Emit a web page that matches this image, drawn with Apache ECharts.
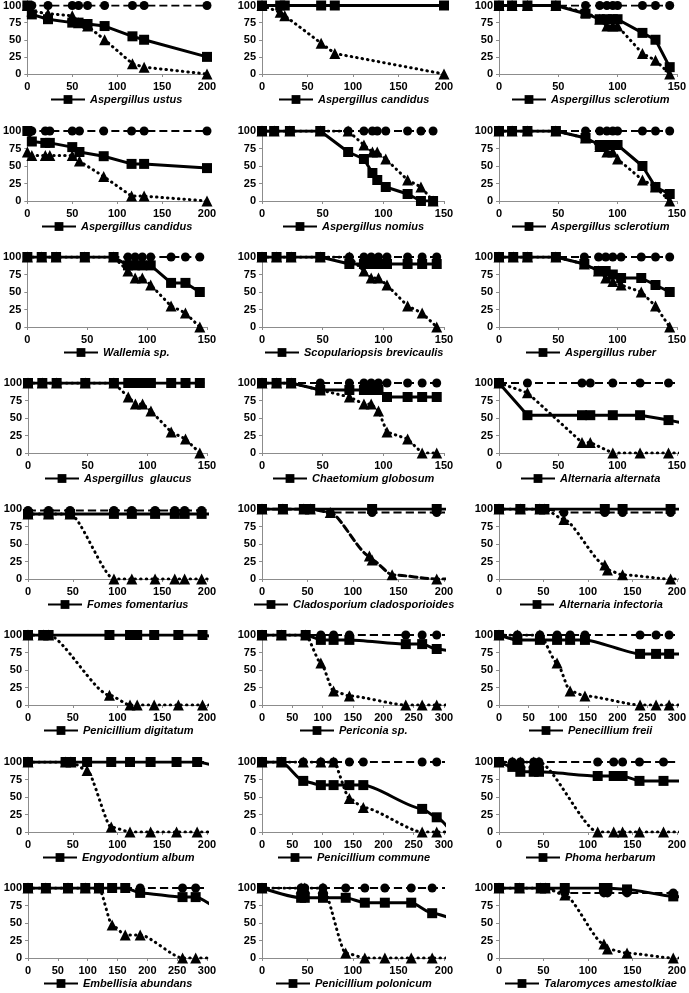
<!DOCTYPE html>
<html>
<head>
<meta charset="utf-8">
<script src="https://cdn.jsdelivr.net/npm/echarts@6/dist/echarts.min.js"></script>
<style>
html, body { margin: 0; padding: 0; background: #fff; }
#chart { width: 689px; height: 993px; }
</style>
</head>
<body>
<div id="chart"></div>
<script>
// panel titles, row by row
var titles = [
	'Aspergillus ustus', 'Aspergillus candidus', 'Aspergillus sclerotium',
	'Aspergillus candidus', 'Aspergillus nomius', 'Aspergillus sclerotium',
	'Wallemia sp.', 'Scopulariopsis brevicaulis', 'Aspergillus ruber',
	'Aspergillus  glaucus', 'Chaetomium globosum', 'Alternaria alternata',
	'Fomes fomentarius', 'Cladosporium cladosporioides', 'Alternaria infectoria',
	'Penicillium digitatum', 'Periconia sp.', 'Penecillium freii',
	'Engyodontium album', 'Penicillium commune', 'Phoma herbarum',
	'Embellisia abundans', 'Penicillium polonicum', 'Talaromyces amestolkiae'
];
var xMax = [200, 200, 150, 200, 150, 150, 150, 150, 150, 150, 150, 150,
	200, 200, 200, 200, 300, 300, 200, 300, 200, 300, 200, 200];
var yTicks = [0, 25, 50, 75, 100];

// x values (days) and the three series (circle / square / triangle) per panel
var d01 = [0, 5, 23, 50, 57, 67, 86, 117, 130, 200];
var c01 = [100, 100, 100, 100, 100, 100, 100, 100, 100, 100];
var s01 = [100, 87, 80, 75, 75, 73, 70, 55, 50, 25];
var t01 = [100, 92, 88, 85, 75, 70, 50, 15, 10, 0];

var d02 = [0, 20, 25, 65, 80, 200];
var c02 = [100, 100, 100, 100, 100, 100];
var s02 = [100, 100, 100, 100, 100, 100];
var t02 = [100, 90, 85, 45, 30, 0];

var d03 = [0, 11, 24, 48, 73, 85, 91, 96, 100, 121, 132, 144];
var c03 = [100, 100, 100, 100, 100, 100, 100, 100, 100, 100, 100, 100];
var s03 = [100, 100, 100, 100, 88, 80, 80, 80, 80, 60, 50, 10];
var t03 = [100, 100, 100, 100, 90, 80, 70, 70, 70, 30, 20, 0];

var d04 = [0, 5, 20, 25, 50, 58, 85, 116, 130, 200];
var c04 = [100, 100, 100, 100, 100, 100, 100, 100, 100, 100];
var s04 = [100, 85, 83, 83, 77, 70, 64, 53, 53, 47];
var t04 = [70, 65, 65, 65, 65, 57, 35, 7, 7, 0];

var d05 = [0, 10, 23, 48, 71, 84, 91, 95, 102, 120, 131, 141];
var c05 = [100, 100, 100, 100, 100, 100, 100, 100, 100, 100, 100, 100];
var s05 = [100, 100, 100, 100, 70, 60, 40, 30, 20, 10, 0, 0];
var t05 = [100, 100, 100, 100, 100, 80, 70, 70, 60, 30, 20, 0];

var d06 = [0, 11, 24, 48, 73, 85, 91, 96, 100, 121, 132, 144];
var c06 = [100, 100, 100, 100, 100, 100, 100, 100, 100, 100, 100, 100];
var s06 = [100, 100, 100, 100, 90, 80, 80, 80, 80, 50, 20, 10];
var t06 = [100, 100, 100, 100, 90, 78, 70, 70, 60, 30, 20, 0];

var d07 = [0, 12, 24, 48, 72, 84, 90, 96, 103, 120, 132, 144];
var c07 = [100, 100, 100, 100, 100, 100, 100, 100, 100, 100, 100, 100];
var s07 = [100, 100, 100, 100, 100, 88, 88, 88, 88, 63, 63, 50];
var t07 = [100, 100, 100, 100, 100, 80, 70, 70, 60, 30, 20, 0];

var d08 = [0, 12, 24, 48, 72, 84, 90, 96, 103, 120, 132, 144];
var c08 = [100, 100, 100, 100, 100, 100, 100, 100, 100, 100, 100, 100];
var s08 = [100, 100, 100, 100, 90, 90, 90, 90, 90, 90, 90, 90];
var t08 = [100, 100, 100, 100, 100, 80, 70, 70, 60, 30, 20, 0];

var d09 = [0, 12, 24, 48, 72, 84, 90, 96, 103, 120, 132, 144];
var c09 = [100, 100, 100, 100, 100, 100, 100, 100, 100, 100, 100, 100];
var s09 = [100, 100, 100, 100, 90, 80, 80, 75, 70, 70, 60, 50];
var t09 = [100, 100, 100, 100, 90, 80, 70, 65, 60, 50, 30, 0];

var d10 = [0, 12, 24, 48, 72, 84, 90, 96, 103, 120, 132, 144];
var c10 = [100, 100, 100, 100, 100, 100, 100, 100, 100, 100, 100, 100];
var s10 = [100, 100, 100, 100, 100, 100, 100, 100, 100, 100, 100, 100];
var t10 = [100, 100, 100, 100, 100, 80, 70, 70, 60, 30, 20, 0];

var d11 = [0, 12, 24, 48, 72, 84, 90, 96, 103, 120, 132, 144];
var c11 = [100, 100, 100, 100, 100, 100, 100, 100, 100, 100, 100, 100];
var s11 = [100, 100, 100, 90, 90, 90, 90, 90, 80, 80, 80, 80];
var t11 = [100, 100, 100, 90, 80, 70, 70, 60, 30, 20, 0, 0];

var d12 = [0, 24, 70, 77, 96, 119, 143, 155];
var c12 = [100, 100, 100, 100, 100, 100, 100, 100];
var s12 = [100, 54, 54, 54, 54, 54, 47, 43];
var t12 = [100, 86, 15, 15, 0, 0, 0, 0];

var d13 = [0, 23, 47, 96, 116, 142, 164, 175, 194, 205];
var c13 = [98, 98, 98, 98, 98, 98, 98, 98, 98, 98];
var s13 = [93, 93, 93, 93, 93, 93, 93, 93, 93, 93];
var t13 = [93, 93, 93, 0, 0, 0, 0, 0, 0, 0];

var d14 = [0, 23, 46, 53, 75, 118, 121, 143, 192, 205];
var c14 = [100, 100, 100, 100, 95, null, 95, null, 95, 95];
var s14 = [100, 100, 100, 100, null, null, 100, null, 100, 100];
var t14 = [100, 100, 100, 100, 95, 33, 27, 6, 0, 0];

var d15 = [0, 24, 46, 51, 73, 119, 122, 139, 193, 205];
var c15 = [100, 100, 100, 100, 95, 95, null, 95, 95, 95];
var s15 = [100, 100, 100, 100, null, 100, null, 100, 100, 100];
var t15 = [100, 100, 100, 100, 85, 20, 13, 6, 0, 0];

var d16 = [0, 17, 23, 91, 114, 122, 141, 168, 195, 205];
var c16 = [100, 100, 100, 100, 100, 100, 100, 100, 100, 100];
var s16 = [100, 100, 100, 100, 100, 100, 100, 100, 100, 98];
var t16 = [100, 100, 100, 14, 0, 0, 0, 0, 0, 0];

var d17 = [0, 32, 72, 97, 118, 144, 237, 264, 288, 305];
var c17 = [100, 100, 100, 100, 100, 100, 100, 100, 100, 100];
var s17 = [100, 100, 100, 93, 93, 93, 87, 87, 80, 78];
var t17 = [100, 100, 100, 60, 20, 13, 0, 0, 0, 0];

var d18 = [0, 31, 69, 98, 120, 145, 238, 265, 287, 305];
var c18 = [100, 100, 100, 100, 100, 100, 100, 100, 100, 100];
var s18 = [100, 93, 93, 93, 93, 93, 73, 73, 73, 73];
var t18 = [100, 100, 100, 60, 20, 13, 0, 0, 0, 0];

var d19 = [0, 42, 48, 66, 93, 114, 137, 166, 189, 205];
var c19 = [100, 100, 100, 100, 100, 100, 100, 100, 100, 100];
var s19 = [100, 100, 100, 100, 100, 100, 100, 100, 100, 96];
var t19 = [100, 100, 100, 88, 7, 0, 0, 0, 0, 0];

var d20 = [0, 32, 68, 97, 118, 144, 167, 264, 288, 305];
var c20 = [100, 100, 100, 100, 100, 100, 100, 100, 100, 100];
var s20 = [100, 100, 73, 67, 67, 67, 67, 33, 21, 8];
var t20 = [100, 100, 100, 100, 100, 48, 35, 0, 0, 0];

var d21 = [0, 15, 24, 39, 45, 111, 129, 139, 158, 185, 205];
var c21 = [100, 100, 100, 100, 100, 100, 100, 100, 100, 100, 100];
var s21 = [100, 93, 86, 86, 86, 80, 80, 80, 73, 73, 73];
var t21 = [100, 100, 100, 100, 100, 0, 0, 0, 0, 0, 0];

var d22 = [0, 30, 67, 96, 119, 141, 163, 188, 259, 281, 305];
var c22 = [100, 100, 100, 100, 100, 100, 100, 100, 100, 100, 100];
var s22 = [100, 100, 100, 100, 100, 100, 100, 93, 87, 87, 77];
var t22 = [100, 100, 100, 100, 100, 47, 33, 33, 0, 0, 0];

var d23 = [0, 43, 47, 67, 92, 113, 135, 164, 187, 205];
var c23 = [100, 100, 100, 100, 100, 100, 100, 100, 100, 100];
var s23 = [100, 86, 86, 86, 86, 79, 79, 79, 64, 58];
var t23 = [100, 100, 100, 100, 7, 0, 0, 0, 0, 0];

var d24 = [0, 23, 47, 52, 74, 118, 122, 144, 196, 205];
var c24 = [100, 100, 100, 100, 93, 93, 93, 93, 93, 93];
var s24 = [100, 100, 100, 100, 100, 100, 100, 98, 88, 87];
var t24 = [100, 100, 100, 100, 90, 20, 13, 7, 0, 0];

var panels = [
	[d01, c01, s01, t01], [d02, c02, s02, t02], [d03, c03, s03, t03],
	[d04, c04, s04, t04], [d05, c05, s05, t05], [d06, c06, s06, t06],
	[d07, c07, s07, t07], [d08, c08, s08, t08], [d09, c09, s09, t09],
	[d10, c10, s10, t10], [d11, c11, s11, t11], [d12, c12, s12, t12],
	[d13, c13, s13, t13], [d14, c14, s14, t14], [d15, c15, s15, t15],
	[d16, c16, s16, t16], [d17, c17, s17, t17], [d18, c18, s18, t18],
	[d19, c19, s19, t19], [d20, c20, s20, t20], [d21, c21, s21, t21],
	[d22, c22, s22, t22], [d23, c23, s23, t23], [d24, c24, s24, t24]
];

(function(){
	// layout
	var FONT = "'Liberation Sans Narrow', 'Liberation Sans', sans-serif";
	var rowTop = [4, 131, 257, 383, 509, 635, 762, 888];
	var plotH = 70;
	var colLeft = [262, 499];
	var colRight = [207, 444, 681];
	var axisColor = '#8c8c8c';

	var ctx = document.createElement('canvas').getContext('2d');
	function textWidth(s){
		ctx.font = 'italic bold 11px ' + FONT;
		return ctx.measureText(s).width;
	}

	function pairs(days, vals){
		var out = [];
		for(var i = 0; i < days.length; i++){
			if(vals[i] != null){
				out.push([days[i], vals[i]]);
			}
		}
		return out;
	}

	var grids = [], xAxes = [], yAxes = [], series = [], legends = [];

	for(var i = 0; i < panels.length; i++){
		var row = Math.floor(i / 3), col = i % 3;
		var gLeft = col == 0 ? (row < 3 ? 25 : 28) : colLeft[col - 1];
		var gWidth = colRight[col] - gLeft;
		var gTop = rowTop[row];
		// the lower rows were drawn with smoothed lines
		var smooth = row >= 4 ? 0.22 : false;
		var p = panels[i];

		grids.push({left: gLeft, top: gTop, width: gWidth, height: plotH});
		xAxes.push({
			gridIndex: i, type: 'value', min: 0, max: xMax[i], interval: 50,
			axisLine: {lineStyle: {color: axisColor, width: 1}},
			axisTick: {show: true, length: 3, lineStyle: {color: axisColor}},
			splitLine: {show: false},
			axisLabel: {margin: 7, fontFamily: FONT, fontSize: 11, fontWeight: 'bold', color: '#000'}
		});
		yAxes.push({
			gridIndex: i, type: 'value', min: yTicks[0], max: yTicks[yTicks.length - 1], interval: 25,
			axisLine: {show: true, lineStyle: {color: axisColor, width: 1}},
			axisTick: {show: true, length: 3, lineStyle: {color: axisColor}},
			splitLine: {show: false},
			axisLabel: {margin: 6, fontFamily: FONT, fontSize: 11, fontWeight: 'bold', color: '#000'}
		});

		var triType = i == 13 ? [7, 4] : [0.5, 5];
		series.push({
			type: 'line', name: 'c' + i, xAxisIndex: i, yAxisIndex: i,
			data: pairs(p[0], p[1]), symbol: 'circle', symbolSize: 9,
			smooth: smooth, smoothMonotone: 'x',
			lineStyle: {color: '#000', width: 2, type: [8, 4]},
			itemStyle: {color: '#000'}, z: 2
		});
		series.push({
			type: 'line', name: titles[i], xAxisIndex: i, yAxisIndex: i,
			data: pairs(p[0], p[2]), symbol: 'rect', symbolSize: 10,
			smooth: smooth, smoothMonotone: 'x',
			lineStyle: {color: '#000', width: 3, type: 'solid'},
			itemStyle: {color: '#000'}, z: 3
		});
		series.push({
			type: 'line', name: 't' + i, xAxisIndex: i, yAxisIndex: i,
			data: pairs(p[0], p[3]), symbol: 'triangle', symbolSize: 11,
			smooth: smooth, smoothMonotone: 'x',
			lineStyle: {color: '#000', width: 3, type: triType, cap: 'round'},
			itemStyle: {color: '#000'}, z: 4
		});

		// legend under each panel, centred on the plot
		var iconW = 34;
		var total = iconW + 5 + textWidth(titles[i]);
		legends.push({
			data: [titles[i]], selectedMode: false, padding: 0,
			left: Math.round(gLeft + gWidth / 2 - total / 2), top: gTop + plotH + 20,
			itemWidth: iconW, itemHeight: 11,
			textStyle: {fontFamily: FONT, fontSize: 11, fontStyle: 'italic', fontWeight: 'bold', color: '#000'}
		});
	}

	var chart = echarts.init(document.getElementById('chart'));
	chart.setOption({
		animation: false,
		backgroundColor: '#fff',
		grid: grids,
		xAxis: xAxes,
		yAxis: yAxes,
		legend: legends,
		series: series
	});
})();
</script>
</body>
</html>
